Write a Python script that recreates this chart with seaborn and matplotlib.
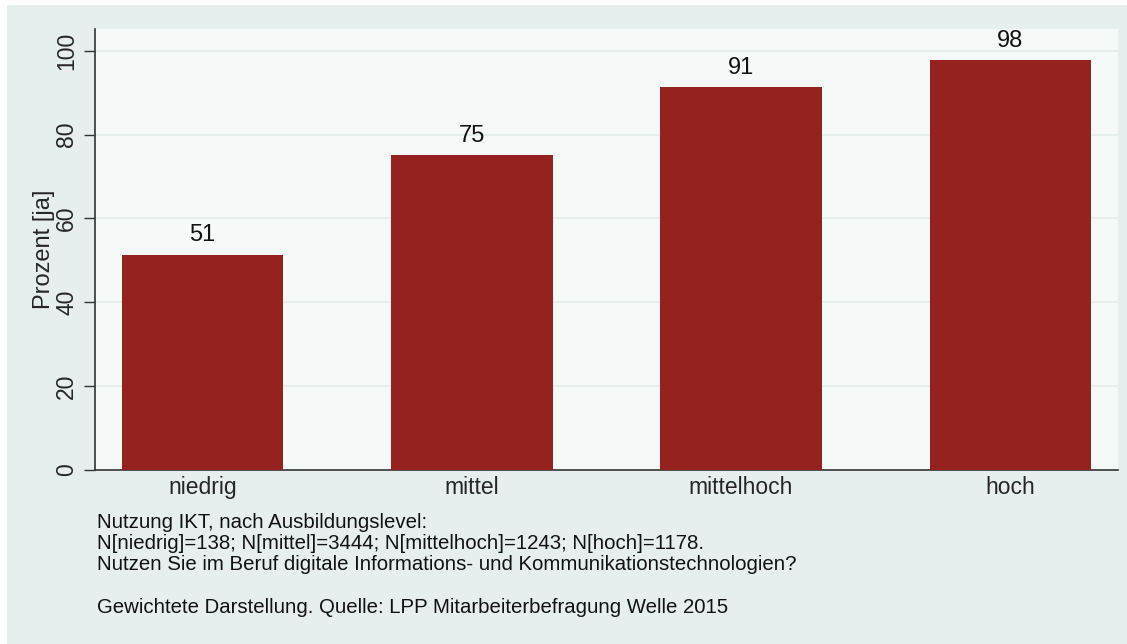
import matplotlib
matplotlib.use("Agg")
import matplotlib.pyplot as plt
import seaborn as sns
import pandas as pd
from matplotlib.patches import Rectangle

categories = ["niedrig", "mittel", "mittelhoch", "hoch"]
values = [51.4, 75.1, 91.3, 97.8]
value_labels = ["51", "75", "91", "98"]
y_ticks = [0, 20, 40, 60, 80, 100]
y_label = "Prozent [ja]"
notes = [
    "Nutzung IKT, nach Ausbildungslevel:",
    "N[niedrig]=138; N[mittel]=3444; N[mittelhoch]=1243; N[hoch]=1178.",
    "Nutzen Sie im Beruf digitale Informations- und Kommunikationstechnologien?",
    "",
    "Gewichtete Darstellung. Quelle: LPP Mitarbeiterbefragung Welle 2015",
]

sns.set_theme(style="white")
plt.rcParams["font.family"] = ["Liberation Sans", "DejaVu Sans"]

W, H = 1127, 644
fig = plt.figure(figsize=(W / 100, H / 100), dpi=100)
fig.patch.set_facecolor("white")
fig.patches.append(Rectangle((7 / W, 0), 1 - 7 / W, 1 - 5 / H, transform=fig.transFigure,
                             facecolor="#e6efee", edgecolor="none", zorder=-10))

ax = fig.add_axes([95 / W, 1 - 470 / H, (1118 - 95) / W, (470 - 29) / H])
ax.set_facecolor("#f5f9f7")

df = pd.DataFrame({"cat": categories, "val": values})
sns.barplot(data=df, x="cat", y="val", order=categories, color="#96221f",
            saturation=1, width=0.6, ax=ax, zorder=3, edgecolor="none")

ax.set_xlim(-0.4, 3.4)
ax.set_ylim(0, 105.2)
ax.set_yticks(y_ticks)
ax.set_yticklabels([str(t) for t in y_ticks], rotation=90, va="center", fontsize=16.5)
ax.tick_params(axis="y", length=8, width=1, color="#333333", pad=4, left=True)
ax.tick_params(axis="x", length=0, pad=4, labelsize=16.5)
ax.set_xlabel("")
ax.set_ylabel(y_label, fontsize=17, labelpad=0)

for y in y_ticks[1:]:
    ax.axhline(y, color="#e3ecea", lw=1.2, zorder=1)

for s in ["top", "right"]:
    ax.spines[s].set_visible(False)
for s in ["left", "bottom"]:
    ax.spines[s].set_color("#333333")
    ax.spines[s].set_linewidth(1.2)

for i, (v, lab) in enumerate(zip(values, value_labels)):
    ax.annotate(lab, (i, v), xytext=(0, 6), textcoords="offset points",
                ha="center", va="bottom", fontsize=17, color="#111111")

y0 = 1 - 522 / H
for k, line in enumerate(notes):
    fig.text(97 / W, y0 - k * (21.3 / H), line, fontsize=14.7, color="#111111",
             va="center", ha="left")

fig.savefig("out.png", dpi=100, facecolor=fig.get_facecolor())
